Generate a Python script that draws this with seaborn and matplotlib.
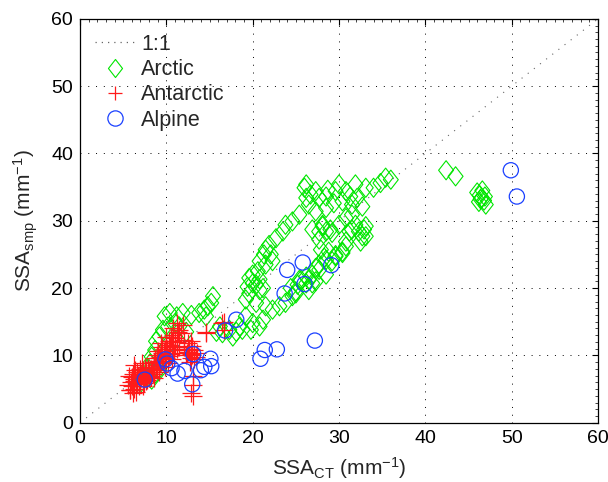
import numpy as np
import pandas as pd
import matplotlib
matplotlib.use("Agg")
import matplotlib.pyplot as plt
from matplotlib.path import Path
from matplotlib.lines import Line2D
import seaborn as sns

# ---------------- data ----------------
arctic_x = [35.4, 36.0, 34.8, 34.0, 33.1, 31.9, 30.0, 29.6, 30.8, 31.3, 32.1, 30.4, 29.4, 31.5,
            28.5, 27.7, 28.5, 27.3, 26.5, 26.2, 26.0, 26.2, 27.3, 28.7, 26.7,
            25.4, 24.6, 23.8, 23.5, 22.7, 21.9, 21.5, 21.3, 22.1, 22.3, 20.8, 21.5, 20.6, 20.0,
            19.6, 20.8, 19.4, 20.4, 21.2,
            28.1, 27.7, 28.5, 29.0, 30.0, 30.8, 31.5, 31.9, 31.2, 32.3, 32.9, 33.1, 32.5, 30.8,
            30.4, 29.6, 28.8, 28.3, 27.7, 27.3, 26.9, 26.5, 26.2, 25.6, 25.2, 25.0, 24.4, 27.3,
            28.5, 27.9, 29.2,
            32.7, 33.1, 32.7, 31.5, 30.8, 30.4, 29.2, 27.7, 26.9, 28.1,
            25.4, 26.5, 25.0, 26.9, 26.2, 27.7, 28.5, 29.6,
            19.6, 20.0, 19.2, 20.8, 20.4, 21.5, 22.3, 23.1, 23.8, 24.6, 19.2, 20.0, 20.8, 21.2,
            19.8, 17.7, 17.3, 16.2, 15.8, 16.5, 18.5, 18.8, 18.1,
            15.4, 15.2, 14.8, 14.4, 13.8, 12.9, 11.9, 11.2, 10.4, 9.8, 11.0, 10.2, 9.6, 9.2,
            8.8, 8.7, 8.3, 8.1, 7.9, 7.7, 7.0, 8.3, 8.7, 9.2, 11.5, 12.3, 14.6,
            42.4, 43.5, 46.0, 46.3, 46.5, 46.8, 46.2, 46.6, 47.0, 46.4, 46.9]
arctic_y = [36.4, 36.1, 35.6, 34.9, 34.9, 35.4, 35.4, 34.4, 34.4, 33.6, 33.4, 32.9, 32.6, 32.4,
            33.6, 33.4, 31.9, 31.4, 32.4, 33.4, 34.9, 35.4, 34.4, 34.6, 33.9,
            30.9, 29.9, 29.4, 28.4, 27.4, 26.4, 25.7, 25.0, 25.0, 24.0, 24.0, 23.5, 22.5, 22.0,
            21.5, 21.3, 20.2, 20.5, 20.0,
            29.4, 28.4, 28.4, 28.7, 29.4, 30.4, 30.9, 29.4, 28.4, 28.4, 28.7, 27.7, 26.9, 26.9,
            25.4, 24.9, 25.4, 24.5, 23.5, 23.0, 22.0, 21.2, 20.7, 21.2, 20.5, 19.5, 20.0, 21.0,
            22.0, 25.7, 24.0,
            32.1, 29.2, 27.7, 28.7, 26.2, 25.2, 28.2, 27.2, 28.7, 29.2,
            21.2, 19.7, 19.2, 20.7, 21.7, 22.7, 24.2, 24.7,
            19.2, 20.7, 18.3, 19.7, 17.8, 17.3, 16.8, 17.3, 17.8, 18.8, 15.8, 14.8, 14.3, 15.3,
            13.8, 12.8, 13.8, 14.3, 13.5, 13.3, 14.3, 13.8, 13.5,
            18.8, 17.8, 17.3, 16.8, 16.3, 16.0, 16.3, 15.8, 16.3, 15.8, 14.8, 14.3, 13.8, 12.8,
            12.1, 10.8, 9.8, 8.8, 8.1, 6.9, 5.9, 6.4, 7.3, 7.8, 14.3, 13.5, 15.8,
            37.5, 36.6, 34.2, 33.8, 33.4, 33.0, 32.8, 34.5, 32.4, 33.2, 33.6]

antarctic_x = [5.8, 6.0, 6.2, 6.4, 6.6, 6.8, 7.0, 7.2, 7.4, 7.6, 7.8, 8.0, 8.2, 6.3, 6.6, 7.0,
               7.3, 7.7, 8.0, 6.1, 6.9, 7.5, 6.5, 8.4,
               5.9, 6.2, 6.5, 6.7, 7.1, 7.3, 7.6, 7.9, 8.1, 6.4, 6.8, 7.4, 7.8, 8.3, 6.0, 7.1,
               6.6, 7.5, 6.9, 8.2, 5.6, 5.7, 8.6, 9.2, 6.3, 7.2,
               8.5, 8.8, 9.0, 9.3, 9.5, 9.8, 10.0, 10.3, 9.2, 9.6, 10.0, 10.4, 10.8, 11.0, 9.0,
               8.7, 10.2, 10.6, 11.2, 10.5, 9.4, 8.9,
               8.6, 9.1, 9.4, 9.7, 10.1, 10.4, 10.7, 11.0, 9.3, 9.9, 10.3, 10.9, 11.2, 8.9, 9.5,
               10.8, 11.3, 10.0, 9.8, 8.8,
               11.9, 11.7, 12.1, 11.5, 10.8, 11.2, 11.5,
               12.5, 12.8, 13.0, 13.2, 12.7, 12.3, 13.5, 12.5, 12.9,
               12.6, 13.0, 12.8, 13.4, 12.4, 13.2, 12.9, 12.1,
               13.1, 13.1, 12.9, 13.1, 5.8, 6.1,
               14.6, 16.5, 16.7, 14.6, 16.7]
antarctic_y = [4.8, 5.5, 6.2, 7.0, 7.5, 6.8, 6.0, 7.2, 6.5, 7.8, 7.0, 7.5, 8.0, 6.5, 5.8, 8.0,
               5.5, 6.2, 6.6, 7.3, 7.6, 8.3, 4.6, 7.2,
               6.0, 5.0, 6.0, 7.0, 6.6, 7.8, 7.4, 8.2, 7.0, 7.8, 5.4, 5.9, 6.4, 7.6, 6.8, 7.1,
               6.5, 7.0, 6.2, 6.8, 5.6, 7.0, 6.6, 7.6, 8.6, 8.8,
               8.0, 8.6, 9.2, 9.8, 10.4, 11.0, 11.6, 12.2, 8.4, 9.0, 9.6, 10.2, 10.8, 11.4, 10.6,
               9.6, 8.8, 9.4, 12.0, 12.8, 11.8, 7.8,
               9.0, 9.6, 10.0, 10.6, 11.0, 11.6, 12.2, 12.6, 8.8, 9.2, 9.9, 10.4, 11.0, 10.0, 11.3,
               13.0, 13.5, 12.8, 8.3, 8.2,
               14.5, 13.3, 12.3, 13.8, 14.0, 14.8, 11.3,
               10.5, 11.0, 10.0, 9.5, 9.0, 10.0, 10.3, 11.8, 12.2,
               10.8, 11.4, 9.6, 9.8, 10.4, 10.8, 10.2, 11.2,
               6.9, 5.6, 4.4, 3.9, 4.9, 4.4,
               13.3, 14.8, 13.8, 13.5, 15.0]

alpine_x = [49.9, 50.6, 24.0, 25.8, 29.1, 26.0, 23.7, 18.1, 16.8, 27.2, 22.8, 21.4, 20.9,
            15.1, 15.2, 14.4, 14.0, 13.1, 9.9, 10.1, 10.6, 11.3, 12.1, 13.0, 7.5]
alpine_y = [37.5, 33.6, 22.7, 23.8, 23.4, 20.6, 19.2, 15.3, 13.7, 12.2, 10.9, 10.8, 9.5,
            9.5, 8.4, 8.3, 7.8, 10.2, 9.4, 8.8, 8.1, 7.3, 7.7, 5.7, 6.4]

groups = ["Arctic", "Antarctic", "Alpine"]
one_to_one = [0, 60]
ticks = [0, 10, 20, 30, 40, 50, 60]

# ---------------- style ----------------
sns.set_style("white")
plt.rcParams["font.family"] = ["Liberation Sans", "DejaVu Sans"]
plt.rcParams["mathtext.fontset"] = "custom"
plt.rcParams["mathtext.rm"] = "Liberation Sans"
plt.rcParams["mathtext.it"] = "Liberation Sans:italic"
plt.rcParams["mathtext.bf"] = "Liberation Sans:bold"

green = "#00e600"
red = "#ff1a1a"
blue = "#1a40ff"

fig = plt.figure(figsize=(6.08, 4.82), dpi=100)
ax = fig.add_axes([0.1316, 0.123, 0.852, 0.838])

# 1:1 line
sns.lineplot(x=one_to_one, y=one_to_one, ax=ax, color="0.4", linestyle=(0, (1, 6)),
             linewidth=0.8, legend=False)

diamond = Path([(0, 1), (0.78, 0), (0, -1), (-0.78, 0), (0, 1)],
               [Path.MOVETO, Path.LINETO, Path.LINETO, Path.LINETO, Path.CLOSEPOLY])

df_a = pd.DataFrame({"x": arctic_x, "y": arctic_y})
df_b = pd.DataFrame({"x": antarctic_x, "y": antarctic_y})
df_c = pd.DataFrame({"x": alpine_x, "y": alpine_y})

sns.scatterplot(data=df_a, x="x", y="y", ax=ax, marker=diamond, s=190,
                color=green, facecolor="none", edgecolor=green, linewidth=0.8, legend=False)
sns.scatterplot(data=df_b, x="x", y="y", ax=ax, marker="+", s=150,
                color=red, linewidth=0.9, legend=False)
sns.scatterplot(data=df_c, x="x", y="y", ax=ax, marker="o", s=120,
                color=blue, facecolor="none", edgecolor=blue, linewidth=0.9, legend=False)

ax.set_xlim(0, 60)
ax.set_ylim(0, 60)
ax.set_xticks(ticks)
ax.set_yticks(ticks)
ax.set_xticks(np.arange(0, 61, 1), minor=True)
ax.set_yticks(np.arange(0, 61, 1), minor=True)
ax.tick_params(which="major", direction="in", length=4, width=0.8, top=True, right=True,
               labelsize=14, pad=5, colors="black")
ax.tick_params(which="minor", direction="in", length=2, width=0.6, top=True, right=True)
ax.grid(True, which="major", color="black", linestyle=(0, (1, 7)), linewidth=0.7)
for sp in ax.spines.values():
    sp.set_color("black")
    sp.set_linewidth(0.9)

ax.set_xlabel(r"SSA$_{\mathrm{CT}}$ (mm$^{-1}$)", fontsize=15, labelpad=6)
ax.set_ylabel(r"SSA$_{\mathrm{smp}}$ (mm$^{-1}$)", fontsize=15, labelpad=8)

handles = [
    Line2D([], [], color="0.4", linestyle=(0, (1, 4)), linewidth=0.9),
    Line2D([], [], linestyle="none", marker=diamond, markersize=13, markerfacecolor="none",
           markeredgecolor=green, markeredgewidth=0.8),
    Line2D([], [], linestyle="none", marker="+", markersize=10.5, color=red, markeredgewidth=0.9),
    Line2D([], [], linestyle="none", marker="o", markersize=11, markerfacecolor="none",
           markeredgecolor=blue, markeredgewidth=0.9),
]
ax.legend(handles, ["1:1"] + groups, loc="upper left", frameon=False, fontsize=15.5,
          handlelength=1.85, handletextpad=0.3, labelspacing=0.2, borderaxespad=0.3,
          bbox_to_anchor=(0.0, 1.0))

fig.savefig("out.png", dpi=100)
